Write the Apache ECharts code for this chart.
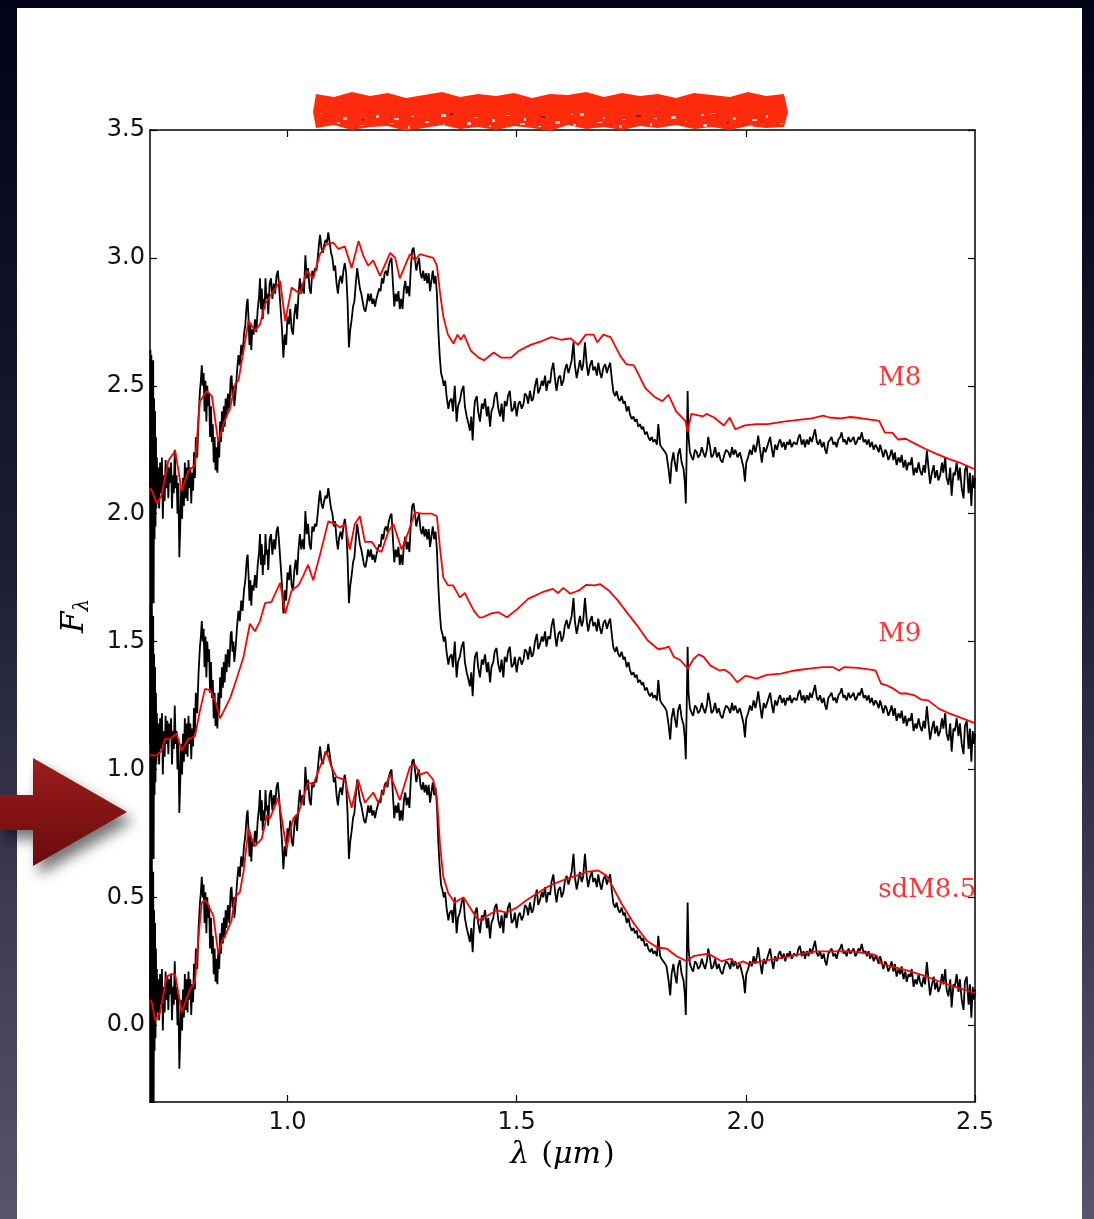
<!DOCTYPE html>
<html>
<head>
<meta charset="utf-8">
<script src="https://cdn.jsdelivr.net/npm/echarts@6/dist/echarts.min.js"></script>
<style>
html,body{margin:0;padding:0;width:1094px;height:1219px;overflow:hidden;}
body{background:linear-gradient(to bottom,#020316 0%,#1c1d33 45%,#3d3c52 75%,#57556b 100%);position:relative;}
#panel{position:absolute;left:17px;top:8px;width:1065px;height:1211px;background:#fff;}
#chart{position:absolute;left:0;top:0;width:1094px;height:1219px;}
</style>
</head>
<body>
<div id="panel"></div>
<div id="chart"></div>
<script>
// Observed spectrum (bottom copy, offset 0); plotted also at +1 and +2
const blackBase = [
[0.700,0.10],[0.701,0.64],[0.702,-0.40],[0.703,0.62],[0.704,-0.45],[0.705,0.55],[0.706,-0.20],[0.707,0.60],[0.708,-0.35],[0.709,0.45],[0.710,-0.10],[0.711,0.40],[0.712,-0.05],[0.713,0.30],[0.714,0.02],[0.715,0.22],[0.716,0.05],
[0.718,0.18],[0.720,0.02],[0.722,0.20],[0.724,0.08],[0.726,0.22],[0.728,-0.02],[0.730,0.15],[0.732,0.05],[0.734,0.21],[0.736,0.10],[0.738,0.19],[0.740,0.06],[0.742,0.18],[0.744,0.12],[0.746,0.20],[0.748,0.02],[0.750,0.15],[0.752,0.08],[0.754,0.25],[0.756,0.10],[0.758,0.15],[0.760,0.00],[0.762,0.12],[0.764,-0.17],[0.766,-0.05],[0.768,0.10],[0.770,-0.02],[0.772,0.14],[0.774,0.03],[0.776,0.20],[0.778,0.06],[0.780,0.18],[0.782,0.05],[0.784,0.21],[0.786,0.10],[0.788,0.18],[0.790,0.04],[0.792,0.16],[0.794,0.09],[0.796,0.24],[0.798,0.14],
[0.800,0.30],[0.803,0.22],[0.806,0.38],[0.809,0.48],[0.811,0.52],[0.813,0.58],[0.815,0.50],[0.817,0.55],[0.819,0.40],[0.821,0.52],[0.823,0.36],[0.825,0.50],[0.827,0.42],[0.829,0.47],[0.831,0.30],[0.833,0.42],[0.835,0.28],[0.837,0.35],[0.839,0.20],[0.841,0.30],[0.843,0.17],[0.845,0.26],[0.847,0.16],[0.849,0.30],[0.851,0.22],[0.853,0.36],[0.855,0.28],[0.857,0.40],[0.859,0.32],[0.861,0.42],[0.863,0.34],[0.865,0.45],[0.867,0.38],[0.870,0.47],[0.873,0.40],[0.876,0.53],[0.878,0.54],[0.880,0.46],[0.882,0.50],[0.884,0.42],[0.887,0.48],[0.890,0.56],[0.893,0.62],[0.896,0.58],[0.899,0.66],
[0.902,0.62],[0.905,0.70],[0.908,0.74],[0.911,0.82],[0.913,0.84],[0.915,0.76],[0.917,0.66],[0.919,0.74],[0.921,0.64],[0.923,0.72],[0.926,0.70],[0.929,0.76],[0.932,0.71],[0.935,0.80],[0.938,0.85],[0.940,0.92],[0.942,0.80],[0.944,0.88],[0.946,0.76],[0.948,0.84],[0.950,0.80],[0.952,0.92],[0.954,0.84],[0.956,0.86],
[0.958,0.78],[0.961,0.90],[0.964,0.92],[0.967,0.84],[0.970,0.90],[0.973,0.86],[0.976,0.93],[0.979,0.95],[0.982,0.88],[0.985,0.80],[0.988,0.72],[0.991,0.61],[0.994,0.70],[0.997,0.66],[1.000,0.77],[1.003,0.74],[1.006,0.80],[1.009,0.72],[1.012,0.70],[1.015,0.78],[1.018,0.82],[1.021,0.76],[1.024,0.86],[1.027,0.92],[1.030,0.86],[1.033,0.90],[1.036,0.86],[1.039,1.01],[1.042,0.92],[1.045,0.96],[1.048,0.88],[1.051,0.86],[1.054,0.95],[1.057,0.93],[1.060,0.96],[1.063,0.95],[1.066,1.00],[1.069,1.06],[1.071,1.09],[1.074,1.04],[1.077,1.02],[1.080,1.05],[1.083,1.07],[1.086,1.06],[1.089,1.10],[1.092,1.06],[1.095,1.02],[1.098,1.00],
[1.101,0.95],[1.104,0.97],[1.107,0.90],[1.110,0.86],[1.113,0.91],[1.116,0.93],[1.119,0.90],[1.122,0.95],[1.125,0.98],[1.128,0.94],[1.131,0.83],[1.134,0.65],[1.137,0.72],[1.140,0.76],[1.143,0.81],[1.146,0.83],[1.149,0.90],[1.152,0.96],[1.155,0.92],[1.158,0.88],[1.161,0.86],[1.164,0.83],[1.167,0.80],[1.170,0.79],[1.173,0.82],[1.176,0.86],[1.179,0.83],[1.182,0.86],[1.185,0.82],[1.188,0.84],[1.191,0.81],[1.194,0.84],[1.197,0.86],[1.200,0.88],[1.203,0.87],[1.206,0.92],[1.209,0.90],[1.212,0.94],[1.215,0.95],[1.218,0.93],[1.221,0.97],[1.224,0.99],[1.227,1.00],[1.230,0.90],[1.233,0.81],[1.236,0.86],[1.239,0.83],[1.242,0.87],[1.245,0.80],[1.248,0.84],[1.251,0.80],[1.254,0.88],[1.257,0.91],[1.260,0.86],[1.263,0.89],[1.266,0.85],[1.269,0.96],[1.272,1.03],[1.275,1.04],[1.278,1.00],[1.281,0.95],[1.284,0.98],[1.287,1.00],[1.290,0.94],[1.293,0.92],[1.296,0.95],[1.299,0.91],
[1.302,0.94],[1.305,0.90],[1.308,0.94],[1.311,0.87],[1.314,0.91],[1.317,0.95],[1.320,0.90],[1.323,0.93],[1.326,0.86],[1.329,0.72],[1.332,0.62],[1.335,0.55],[1.338,0.53],[1.341,0.50],[1.344,0.52],[1.347,0.46],[1.351,0.41],[1.354,0.44],[1.358,0.45],[1.361,0.40],[1.365,0.50],[1.369,0.36],[1.372,0.42],[1.376,0.44],[1.380,0.48],[1.384,0.50],[1.387,0.42],[1.391,0.38],[1.395,0.35],[1.398,0.325],[1.401,0.38],[1.404,0.286],[1.407,0.40],[1.409,0.44],[1.413,0.46],[1.416,0.40],[1.420,0.36],[1.424,0.43],[1.427,0.41],[1.431,0.45],[1.435,0.38],[1.438,0.42],[1.442,0.34],[1.445,0.40],[1.449,0.42],[1.452,0.46],[1.456,0.475],[1.460,0.41],[1.464,0.38],[1.467,0.43],[1.471,0.36],[1.474,0.44],[1.478,0.42],[1.481,0.46],[1.485,0.48],[1.489,0.40],[1.493,0.41],[1.496,0.44],
[1.500,0.38],[1.504,0.43],[1.507,0.44],[1.511,0.41],[1.515,0.43],[1.518,0.47],[1.522,0.46],[1.525,0.43],[1.529,0.48],[1.533,0.44],[1.536,0.45],[1.540,0.50],[1.544,0.53],[1.547,0.47],[1.551,0.49],[1.555,0.52],[1.558,0.50],[1.562,0.54],[1.565,0.48],[1.569,0.52],[1.573,0.51],[1.576,0.56],[1.580,0.59],[1.584,0.52],[1.587,0.48],[1.591,0.53],[1.595,0.54],[1.598,0.50],[1.602,0.52],[1.605,0.56],[1.609,0.585],[1.613,0.55],[1.616,0.57],[1.620,0.60],[1.624,0.67],[1.627,0.58],[1.631,0.53],[1.635,0.57],[1.638,0.60],[1.642,0.56],[1.645,0.58],[1.649,0.67],[1.653,0.58],[1.656,0.54],[1.660,0.58],[1.664,0.60],[1.667,0.56],[1.671,0.575],[1.675,0.54],[1.678,0.59],[1.682,0.55],[1.685,0.53],[1.689,0.57],[1.693,0.585],[1.697,0.55],
[1.700,0.57],[1.704,0.59],[1.708,0.52],[1.711,0.475],[1.715,0.46],[1.718,0.48],[1.722,0.45],[1.725,0.44],[1.729,0.46],[1.733,0.43],[1.736,0.44],[1.740,0.40],[1.744,0.42],[1.747,0.39],[1.751,0.37],[1.755,0.38],[1.758,0.36],[1.762,0.37],[1.765,0.34],[1.769,0.35],[1.773,0.33],[1.776,0.34],[1.780,0.31],[1.784,0.32],[1.787,0.30],[1.791,0.286],[1.795,0.30],[1.798,0.28],[1.802,0.29],[1.806,0.27],[1.809,0.35],[1.813,0.27],[1.816,0.26],[1.820,0.255],[1.824,0.24],[1.827,0.23],[1.831,0.18],[1.835,0.117],[1.838,0.20],[1.842,0.24],[1.845,0.20],[1.849,0.164],[1.852,0.23],[1.856,0.255],[1.860,0.20],[1.864,0.176],[1.867,0.12],[1.869,0.04],[1.871,0.25],[1.873,0.48],[1.875,0.30],[1.878,0.24],[1.882,0.22],[1.885,0.21],[1.889,0.25],[1.893,0.24],[1.896,0.22],
[1.900,0.23],[1.904,0.26],[1.907,0.24],[1.911,0.22],[1.915,0.25],[1.918,0.30],[1.922,0.26],[1.925,0.22],[1.929,0.23],[1.933,0.26],[1.937,0.22],[1.941,0.24],[1.945,0.21],[1.949,0.20],[1.953,0.23],[1.957,0.25],[1.962,0.24],[1.966,0.22],[1.970,0.26],[1.973,0.23],[1.977,0.25],[1.982,0.22],[1.987,0.24],[1.991,0.21],[1.995,0.18],[1.998,0.125],[2.001,0.20],[2.005,0.22],[2.009,0.25],[2.013,0.23],[2.017,0.27],[2.021,0.24],[2.025,0.28],[2.027,0.305],[2.031,0.25],[2.035,0.20],[2.039,0.26],[2.043,0.24],[2.048,0.27],[2.053,0.30],[2.057,0.25],[2.060,0.22],[2.064,0.27],[2.068,0.25],[2.072,0.28],[2.075,0.29],[2.079,0.26],[2.083,0.28],[2.086,0.25],[2.090,0.28],[2.094,0.27],[2.096,0.29],
[2.100,0.26],[2.105,0.28],[2.111,0.27],[2.115,0.30],[2.118,0.31],[2.122,0.27],[2.126,0.29],[2.129,0.26],[2.133,0.29],[2.137,0.27],[2.140,0.30],[2.144,0.28],[2.148,0.31],[2.151,0.33],[2.155,0.28],[2.158,0.27],[2.162,0.29],[2.166,0.26],[2.170,0.28],[2.173,0.25],[2.176,0.234],[2.180,0.28],[2.184,0.29],[2.187,0.30],[2.191,0.27],[2.195,0.28],[2.198,0.26],[2.202,0.29],[2.206,0.30],[2.209,0.318],[2.213,0.28],[2.216,0.29],[2.220,0.27],[2.224,0.30],[2.228,0.28],[2.232,0.29],[2.235,0.30],[2.239,0.27],[2.242,0.28],[2.246,0.30],[2.249,0.29],[2.253,0.318],[2.257,0.28],[2.261,0.29],[2.264,0.27],[2.268,0.29],[2.271,0.26],[2.275,0.28],[2.279,0.25],[2.283,0.27],[2.286,0.26],[2.290,0.24],[2.293,0.27],[2.296,0.25],
[2.300,0.22],[2.304,0.25],[2.307,0.24],[2.311,0.21],[2.315,0.23],[2.318,0.25],[2.322,0.21],[2.325,0.24],[2.329,0.19],[2.333,0.22],[2.337,0.20],[2.340,0.23],[2.344,0.18],[2.348,0.21],[2.351,0.17],[2.355,0.20],[2.359,0.19],[2.362,0.22],[2.366,0.15],[2.370,0.18],[2.373,0.16],[2.377,0.20],[2.380,0.17],[2.384,0.15],[2.388,0.19],[2.391,0.16],[2.395,0.247],[2.399,0.17],[2.402,0.117],[2.406,0.16],[2.410,0.19],[2.413,0.14],[2.417,0.17],[2.420,0.13],[2.424,0.15],[2.428,0.20],[2.431,0.16],[2.435,0.22],[2.438,0.14],[2.442,0.113],[2.446,0.18],[2.449,0.07],[2.453,0.16],[2.456,0.15],[2.460,0.20],[2.464,0.13],[2.467,0.18],[2.471,0.10],[2.475,0.06],[2.478,0.17],[2.482,0.19],[2.486,0.08],[2.489,0.16],[2.492,0.03],[2.495,0.15],[2.498,0.10],[2.500,0.14]
];
const blackOffsets = [0, 1, 2];

// Template spectra (as plotted)
const redM8 = [
[0.700,2.10],[0.704,2.09],[0.715,2.04],[0.725,2.07],[0.740,2.207],[0.755,2.246],[0.769,2.09],[0.784,2.168],[0.798,2.19],[0.809,2.44],[0.824,2.48],[0.835,2.46],[0.849,2.28],[0.860,2.35],[0.875,2.415],[0.886,2.507],[0.893,2.52],[0.904,2.637],[0.915,2.754],[0.929,2.715],[0.940,2.74],[0.951,2.82],[0.969,2.87],[0.984,2.91],[0.995,2.754],[1.009,2.884],[1.027,2.86],[1.042,2.95],[1.056,2.92],[1.071,3.015],[1.085,3.053],[1.100,3.06],[1.111,3.035],[1.125,3.045],[1.140,2.96],[1.155,3.066],[1.165,3.01],[1.176,2.97],[1.187,2.99],[1.202,2.93],[1.224,3.02],[1.235,3.00],[1.245,2.92],[1.267,3.015],[1.278,2.99],[1.289,3.015],[1.318,3.00],[1.326,2.97],[1.333,2.86],[1.340,2.77],[1.350,2.70],[1.362,2.665],[1.371,2.70],[1.378,2.68],[1.385,2.70],[1.400,2.637],[1.417,2.61],[1.429,2.60],[1.450,2.63],[1.467,2.61],[1.488,2.61],[1.505,2.637],[1.530,2.66],[1.555,2.675],[1.576,2.69],[1.597,2.68],[1.618,2.685],[1.634,2.66],[1.651,2.70],[1.668,2.70],[1.676,2.67],[1.689,2.70],[1.705,2.69],[1.726,2.617],[1.739,2.585],[1.756,2.58],[1.781,2.49],[1.802,2.455],[1.818,2.44],[1.831,2.465],[1.848,2.40],[1.868,2.363],[1.873,2.32],[1.881,2.39],[1.906,2.38],[1.914,2.39],[1.931,2.376],[1.952,2.345],[1.965,2.376],[1.977,2.33],[1.998,2.345],[2.023,2.35],[2.048,2.35],[2.082,2.36],[2.115,2.367],[2.144,2.373],[2.169,2.383],[2.182,2.376],[2.207,2.373],[2.228,2.378],[2.249,2.374],[2.291,2.363],[2.303,2.318],[2.320,2.316],[2.332,2.29],[2.349,2.293],[2.370,2.273],[2.391,2.254],[2.416,2.234],[2.441,2.215],[2.466,2.20],[2.496,2.176],[2.500,2.175]
];
const redM9 = [
[0.700,1.055],[0.704,1.055],[0.715,1.055],[0.725,1.074],[0.733,1.12],[0.744,1.12],[0.758,1.14],[0.769,1.074],[0.784,1.12],[0.798,1.13],[0.809,1.23],[0.820,1.315],[0.831,1.31],[0.842,1.27],[0.853,1.20],[0.864,1.24],[0.875,1.28],[0.889,1.355],[0.904,1.44],[0.918,1.57],[0.929,1.54],[0.940,1.58],[0.951,1.65],[0.965,1.655],[0.984,1.73],[0.995,1.61],[1.009,1.70],[1.024,1.72],[1.035,1.76],[1.045,1.80],[1.056,1.74],[1.071,1.84],[1.089,1.97],[1.104,1.96],[1.115,1.946],[1.125,1.96],[1.136,1.86],[1.147,1.96],[1.158,1.99],[1.169,1.89],[1.184,1.89],[1.195,1.86],[1.205,1.85],[1.220,1.93],[1.231,1.96],[1.249,1.86],[1.264,1.93],[1.278,2.005],[1.293,2.00],[1.315,2.00],[1.326,1.99],[1.333,1.86],[1.340,1.75],[1.350,1.72],[1.361,1.72],[1.376,1.673],[1.387,1.69],[1.395,1.66],[1.407,1.62],[1.418,1.595],[1.426,1.595],[1.445,1.61],[1.460,1.615],[1.479,1.595],[1.502,1.628],[1.525,1.667],[1.556,1.693],[1.579,1.706],[1.590,1.69],[1.602,1.71],[1.617,1.687],[1.636,1.70],[1.652,1.722],[1.671,1.72],[1.682,1.725],[1.701,1.70],[1.721,1.66],[1.740,1.615],[1.763,1.5625],[1.786,1.504],[1.809,1.47],[1.824,1.475],[1.832,1.48],[1.843,1.44],[1.855,1.43],[1.874,1.394],[1.885,1.43],[1.897,1.45],[1.908,1.44],[1.923,1.406],[1.943,1.387],[1.954,1.39],[1.966,1.375],[1.981,1.341],[2.000,1.367],[2.023,1.355],[2.046,1.37],[2.077,1.375],[2.107,1.387],[2.138,1.394],[2.168,1.40],[2.191,1.40],[2.203,1.387],[2.214,1.40],[2.245,1.397],[2.283,1.387],[2.295,1.336],[2.306,1.33],[2.322,1.316],[2.337,1.297],[2.352,1.297],[2.368,1.29],[2.383,1.273],[2.398,1.27],[2.421,1.238],[2.444,1.219],[2.467,1.204],[2.494,1.185],[2.500,1.18]
];
const redSdM85 = [
[0.700,0.10],[0.704,0.09],[0.711,0.02],[0.722,0.05],[0.736,0.19],[0.746,0.20],[0.755,0.20],[0.769,0.05],[0.787,0.14],[0.798,0.17],[0.805,0.33],[0.813,0.48],[0.820,0.49],[0.827,0.47],[0.838,0.43],[0.849,0.28],[0.857,0.33],[0.864,0.35],[0.878,0.41],[0.885,0.50],[0.896,0.52],[0.904,0.60],[0.915,0.77],[0.922,0.73],[0.929,0.70],[0.944,0.73],[0.955,0.82],[0.962,0.81],[0.980,0.89],[0.990,0.78],[0.998,0.69],[1.006,0.76],[1.013,0.81],[1.024,0.83],[1.038,0.91],[1.045,0.95],[1.056,0.94],[1.071,1.01],[1.085,1.07],[1.096,1.01],[1.107,0.97],[1.125,0.96],[1.140,0.85],[1.154,0.96],[1.169,0.87],[1.187,0.91],[1.198,0.87],[1.224,0.98],[1.245,0.88],[1.267,1.01],[1.278,1.02],[1.289,0.98],[1.304,0.99],[1.318,0.96],[1.326,0.89],[1.333,0.70],[1.340,0.58],[1.351,0.515],[1.365,0.48],[1.384,0.50],[1.402,0.45],[1.416,0.41],[1.438,0.43],[1.456,0.45],[1.478,0.44],[1.500,0.46],[1.522,0.49],[1.544,0.515],[1.566,0.54],[1.584,0.555],[1.605,0.57],[1.631,0.585],[1.653,0.60],[1.678,0.605],[1.696,0.585],[1.707,0.55],[1.729,0.475],[1.755,0.40],[1.784,0.33],[1.806,0.305],[1.827,0.30],[1.849,0.27],[1.871,0.25],[1.885,0.27],[1.918,0.28],[1.947,0.25],[1.965,0.26],[1.980,0.24],[1.994,0.25],[2.005,0.24],[2.045,0.254],[2.089,0.267],[2.125,0.28],[2.155,0.289],[2.191,0.289],[2.227,0.29],[2.256,0.283],[2.285,0.273],[2.296,0.24],[2.322,0.228],[2.351,0.215],[2.387,0.195],[2.416,0.176],[2.453,0.152],[2.493,0.13],[2.500,0.125]
];

const templateNames = ['M8', 'M9', 'sdM8.5'];
const templateLabelX = [2.29, 2.29, 2.29];
const templateLabelY = [2.5, 1.5, 0.5];

const xTicks = [1.0, 1.5, 2.0, 2.5];
const xTopTicks = [1.0, 1.5, 2.0];
const yTicks = [0.0, 0.5, 1.0, 1.5, 2.0, 2.5, 3.0, 3.5];
const xRange = [0.7, 2.5];
const yRange = [-0.3, 3.5];

const chart = echarts.init(document.getElementById('chart'), null, {renderer: 'canvas'});

const tickLabel = {fontFamily: 'DejaVu Sans', fontSize: 24, color: '#111'};
const lineAx = {onZero: false, lineStyle: {color: '#000', width: 1.5}};
const tickSt = {inside: true, length: 7, lineStyle: {color: '#000', width: 1.2}};

const series = [];
blackOffsets.forEach(function (o) {
  series.push({
    type: 'line', showSymbol: false, silent: true, clip: true,
    data: blackBase.map(function (p) { return [p[0], p[1] + o]; }),
    lineStyle: {color: '#000', width: 1.8}, z: 2
  });
});
[redM8, redM9, redSdM85].forEach(function (d) {
  series.push({
    type: 'line', showSymbol: false, silent: true, clip: true,
    data: d, lineStyle: {color: '#ff0000', width: 1.8}, z: 3
  });
});
series.push({
  type: 'scatter', silent: true, symbolSize: 1, itemStyle: {color: 'rgba(0,0,0,0)'},
  data: templateNames.map(function (n, i) { return {value: [templateLabelX[i], templateLabelY[i]], name: n}; }),
  label: {show: true, position: [0, 0], align: 'left', verticalAlign: 'bottom', offset: [0, 6],
    formatter: function (p) { return p.name; },
    fontFamily: 'DejaVu Serif', fontSize: 26, color: '#ff0000'},
  z: 4
});

// scribbled (redacted) title block
const scrib = [];
const topY = [94,97,92,96,93,98,95,92,97,94,96,93,98,94,95,92,97,93,96,94,98,93,95,97,92,96,94];
const botY = [128,125,130,127,126,131,128,125,129,127,130,126,128,131,125,129,127,130,126,128,125,129,127,130,126,128,127];
for (let i = 0; i < topY.length; i++) scrib.push([316 + i * 18, topY[i]]);
scrib.push([788, 112]);
for (let i = botY.length - 1; i >= 0; i--) scrib.push([316 + i * 18, botY[i]]);
scrib.push([313, 112]);
const specks = [];
const speckDx = [0, 7, 3, 9, 2, 6, 10, 4, 8, 1, 5, 11, 3];
const speckDy = [0, 9, 4, 12, 6, 2, 10, 5, 13, 3, 8, 1, 11];
for (let i = 0; i < 46; i++) {
  specks.push({type: 'rect', silent: true, z: 11,
    shape: {x: 320 + i * 10 + speckDx[i % 13], y: 113 + speckDy[i % 13], width: 2 + (i % 4), height: 1 + (i % 3)},
    style: {fill: i % 9 === 4 ? '#5a1a10' : '#ffffff', opacity: 0.75}});
}

const option = {
  animation: false,
  backgroundColor: 'transparent',
  grid: {left: 150, right: 119, top: 130, bottom: 117, containLabel: false},
  xAxis: [
    {type: 'value', min: xRange[0], max: xRange[1], position: 'bottom',
     axisLine: lineAx, axisTick: Object.assign({customValues: xTicks}, tickSt),
     axisLabel: Object.assign({customValues: xTicks, margin: 9, formatter: function (v) { return v.toFixed(1); }}, tickLabel),
     splitLine: {show: false},
     name: '{i|λ}{p|(}{i|μm}{q|)}', nameLocation: 'middle', nameGap: 38,
     nameTextStyle: {rich: {
       i: {fontFamily: 'DejaVu Serif', fontStyle: 'italic', fontSize: 30, color: '#000'},
       p: {fontFamily: 'DejaVu Serif', fontSize: 30, color: '#000', padding: [0, 0, 0, 12]},
       q: {fontFamily: 'DejaVu Serif', fontSize: 30, color: '#000', padding: [0, 0, 0, 2]}}}},
    {type: 'value', min: xRange[0], max: xRange[1], position: 'top',
     axisLine: lineAx, axisTick: Object.assign({customValues: xTopTicks}, tickSt),
     axisLabel: {show: false}, splitLine: {show: false}}
  ],
  yAxis: [
    {type: 'value', min: yRange[0], max: yRange[1], position: 'left',
     axisLine: lineAx, axisTick: Object.assign({customValues: yTicks}, tickSt),
     axisLabel: Object.assign({customValues: yTicks, margin: 5, formatter: function (v) { return v.toFixed(1); }}, tickLabel),
     splitLine: {show: false},
     name: '{f|F}{s|λ}', nameLocation: 'middle', nameRotate: 90, nameGap: 57,
     nameTextStyle: {rich: {
       f: {fontFamily: 'DejaVu Serif', fontStyle: 'italic', fontSize: 31, lineHeight: 36, color: '#000'},
       s: {fontFamily: 'DejaVu Serif', fontStyle: 'italic', fontSize: 20, lineHeight: 20, verticalAlign: 'bottom', color: '#000'}}}},
    {type: 'value', min: yRange[0], max: yRange[1], position: 'right',
     axisLine: lineAx, axisTick: Object.assign({customValues: yTicks}, tickSt),
     axisLabel: {show: false}, splitLine: {show: false}}
  ],
  series: series,
  graphic: [
    {type: 'polygon', silent: true, z: 10,
     shape: {points: scrib},
     style: {fill: '#ff2b0c'}},
    {type: 'polygon', silent: true, z: 10,
     shape: {points: [[0, 795], [33, 795], [33, 758], [127, 812], [33, 866], [33, 830], [0, 830]]},
     style: {
       fill: {type: 'linear', x: 0, y: 0, x2: 0, y2: 1, colorStops: [{offset: 0, color: '#9c1d1d'}, {offset: 1, color: '#6a0b0b'}]},
       shadowBlur: 14, shadowColor: 'rgba(0,0,0,0.55)', shadowOffsetX: 6, shadowOffsetY: 9}}
  ].concat(specks)
};
chart.setOption(option);
</script>
</body>
</html>
